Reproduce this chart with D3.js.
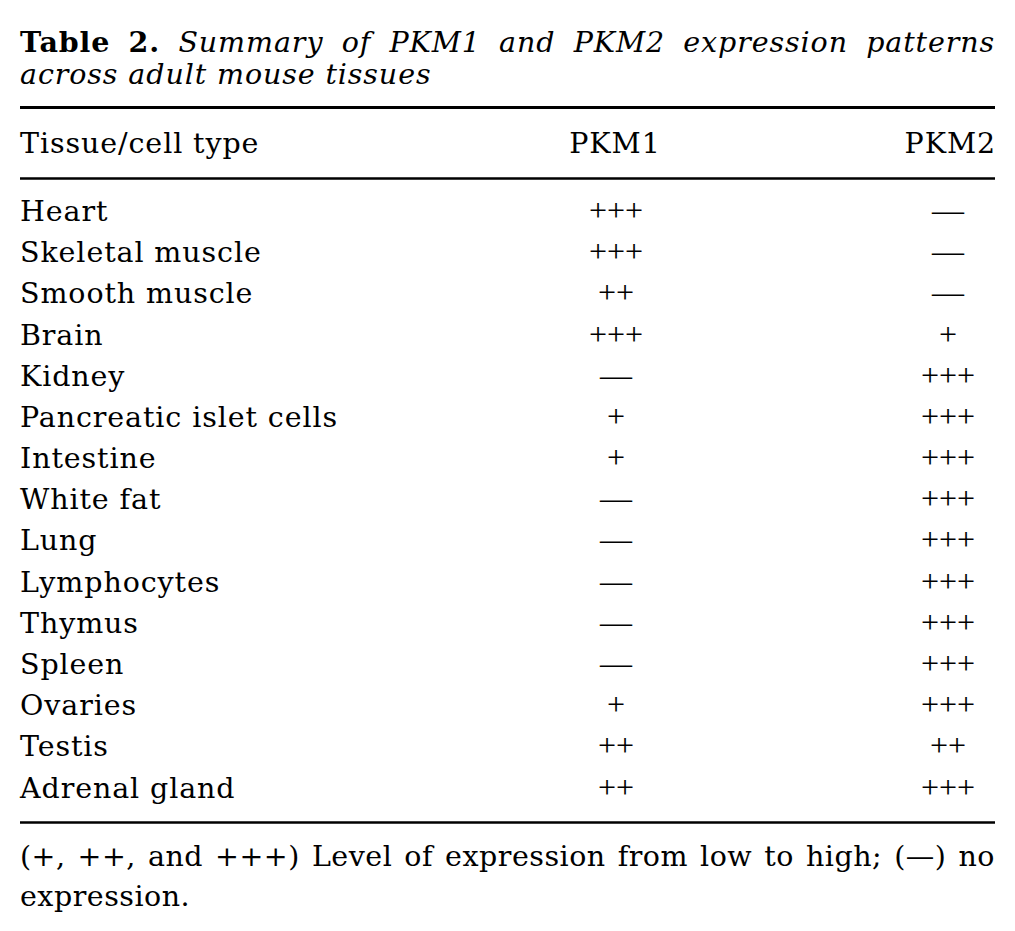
<!DOCTYPE html>
<html>
<head>
<meta charset="utf-8">
<script src="https://cdn.jsdelivr.net/npm/d3@7"></script>
<style>
  html, body { margin: 0; padding: 0; background: #fff; }
</style>
</head>
<body>
<svg id="chart"></svg>
<script>
// table content
const titleBold = ["Table", "2."];
const titleItalic1 = ["Summary", "of", "PKM1", "and", "PKM2", "expression", "patterns"];
const titleItalic2 = "across adult mouse tissues";
const columns = ["Tissue/cell type", "PKM1", "PKM2"];
const tissues = ["Heart", "Skeletal muscle", "Smooth muscle", "Brain", "Kidney",
  "Pancreatic islet cells", "Intestine", "White fat", "Lung", "Lymphocytes",
  "Thymus", "Spleen", "Ovaries", "Testis", "Adrenal gland"];
const pkm1 = ["+++", "+++", "++", "+++", "—", "+", "+", "—", "—", "—", "—", "—", "+", "++", "++"];
const pkm2 = ["—", "—", "—", "+", "+++", "+++", "+++", "+++", "+++", "+++", "+++", "+++", "+++", "++", "+++"];
const footWords = ["(+,", "++,", "and", "+++)", "Level", "of", "expression", "from", "low", "to", "high;", "(—)", "no"];
const footLine2 = "expression.";

const width = 1015, height = 931;
const left = 20, right = 995;
const font = "'DejaVu Serif', serif";
const fontSize = 28.5;

const svg = d3.select("#chart")
  .attr("width", width)
  .attr("height", height)
  .style("font-family", font)
  .style("font-size", fontSize + "px")
  .style("letter-spacing", "0.9px");

svg.append("rect").attr("width", width).attr("height", height).attr("fill", "#fff");

// lay words out so the line fills left..right (justified)
function justify(parent, words, y) {
  const g = parent.append("g");
  const nodes = words.map(w => {
    const t = g.append("text").attr("y", y).text(w.text);
    if (w.bold) t.attr("font-weight", "bold");
    if (w.italic) t.attr("font-style", "italic");
    return t;
  });
  const widths = nodes.map(n => n.node().getComputedTextLength());
  const gap = (right - left - d3.sum(widths)) / (words.length - 1);
  let x = left;
  nodes.forEach((n, i) => {
    n.attr("x", x);
    x += widths[i] + gap;
  });
}

// title
justify(
  svg,
  titleBold.map(t => ({ text: t, bold: true }))
    .concat(titleItalic1.map(t => ({ text: t, italic: true }))),
  52
);
svg.append("text")
  .attr("x", left)
  .attr("y", 84)
  .attr("font-style", "italic")
  .text(titleItalic2);

// rules
const rule = (y, w) => svg.append("line")
  .attr("x1", left).attr("x2", right)
  .attr("y1", y).attr("y2", y)
  .attr("stroke", "#000").attr("stroke-width", w);
rule(107.5, 3);
rule(178.5, 2.6);
rule(822.5, 2.6);

// header
const colX = d3.scaleOrdinal().domain(columns).range([left, 615, right + 1]);
const colAnchor = d3.scaleOrdinal().domain(columns).range(["start", "middle", "end"]);
svg.append("g").selectAll("text")
  .data(columns)
  .join("text")
  .attr("x", d => colX(d))
  .attr("y", 153)
  .attr("text-anchor", d => colAnchor(d))
  .text(d => d);

// rows
const y = d3.scalePoint().domain(tissues).range([221, 797.5]);
const rows = svg.append("g").selectAll("g")
  .data(tissues.map((t, i) => ({ tissue: t, p1: pkm1[i], p2: pkm2[i] })))
  .join("g")
  .attr("transform", d => `translate(0,${y(d.tissue)})`);

rows.append("text")
  .attr("x", left)
  .text(d => d.tissue);

const valueFont = "'Liberation Serif', serif";
rows.append("text")
  .attr("x", 616)
  .attr("text-anchor", "middle")
  .style("font-family", valueFont)
  .style("font-size", "32px")
  .style("letter-spacing", "0px")
  .text(d => d.p1);
rows.append("text")
  .attr("x", 948)
  .attr("text-anchor", "middle")
  .style("font-family", valueFont)
  .style("font-size", "32px")
  .style("letter-spacing", "0px")
  .text(d => d.p2);

// footnote
const foot = svg.append("g").style("letter-spacing", "0.5px");
justify(foot, footWords.map(t => ({ text: t })), 866);
foot.append("text")
  .attr("x", left)
  .attr("y", 906)
  .text(footLine2);
</script>
</body>
</html>
